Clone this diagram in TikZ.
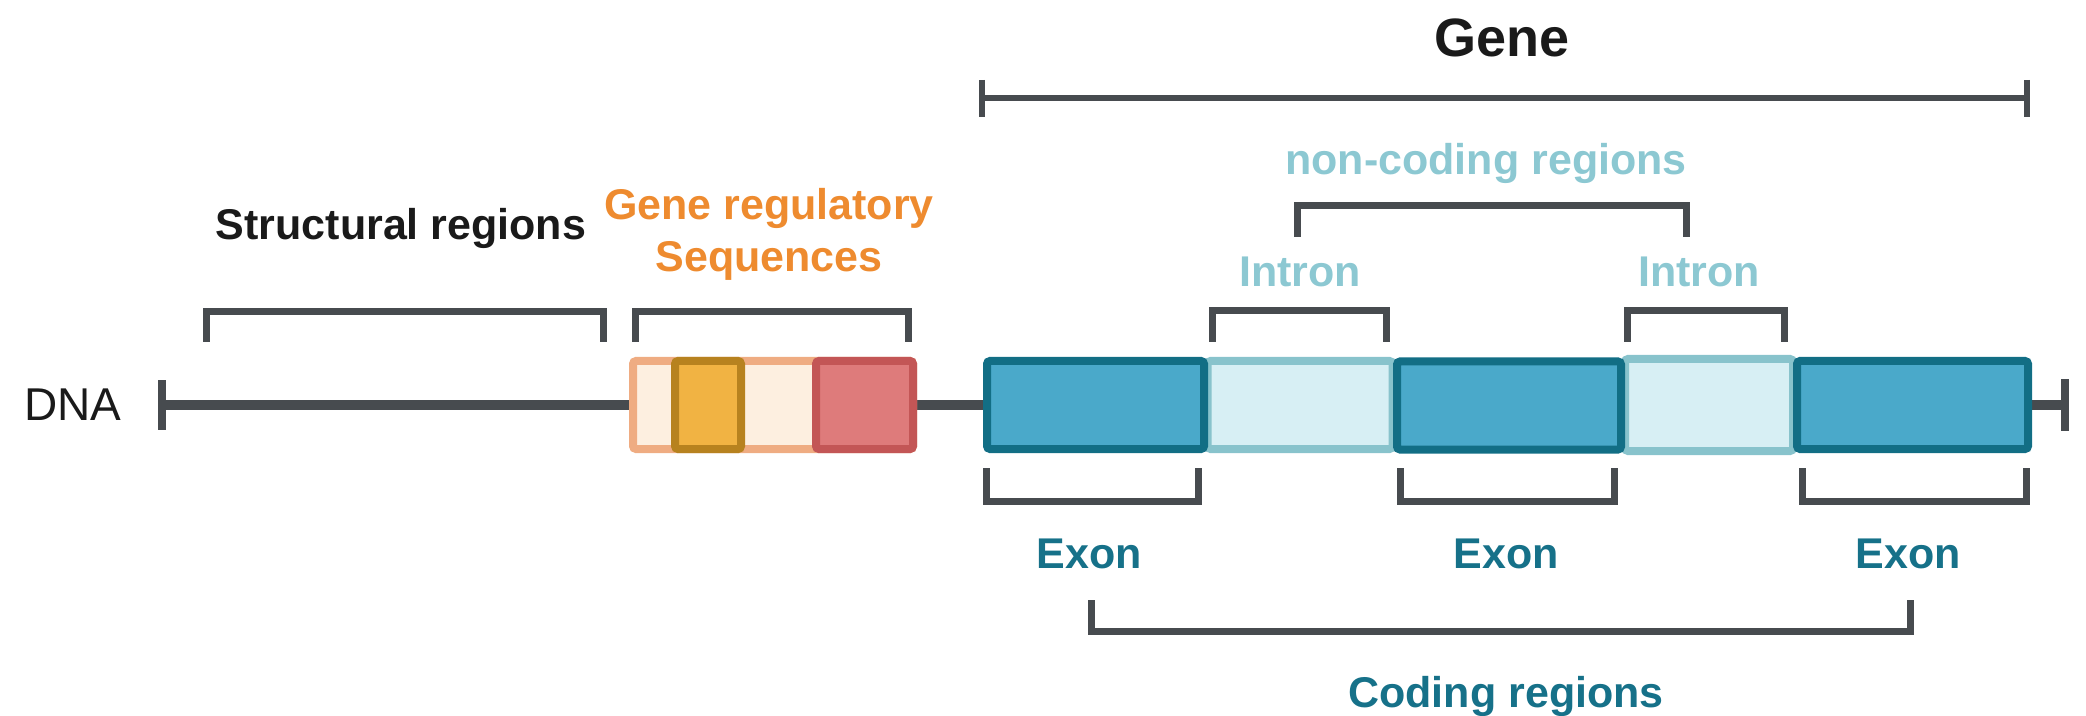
\documentclass[tikz,border=0pt]{standalone}
\usepackage{fontspec}
\setmainfont{Liberation Sans}
\definecolor{brgray}{HTML}{474B4F}
\definecolor{lblblack}{HTML}{1A1A1A}
\definecolor{orangelbl}{HTML}{EE8B2F}
\definecolor{lightteal}{HTML}{8CC8D2}
\definecolor{darkteal}{HTML}{167189}
\definecolor{exfill}{HTML}{4AA9CA}
\definecolor{exdraw}{HTML}{126E85}
\definecolor{infill}{HTML}{D7EFF4}
\definecolor{indraw}{HTML}{88C3CC}
\definecolor{regfill}{HTML}{FDEFE0}
\definecolor{regdraw}{HTML}{EFAC82}
\definecolor{yelfill}{HTML}{F1B343}
\definecolor{yeldraw}{HTML}{B7821F}
\definecolor{redfill}{HTML}{DE7B7B}
\definecolor{reddraw}{HTML}{C35656}
\begin{document}
\begin{tikzpicture}[x=0.5pt,y=-0.5pt,
  lbl/.style={font=\fontsize{21.5}{26}\selectfont\bfseries, anchor=base, inner sep=0pt},
  brk/.style={draw=brgray, line width=3.3pt, line join=miter, line cap=butt},
  dnaline/.style={draw=brgray, line width=5pt},
  tick/.style={draw=brgray, line width=4pt},
  seg/.style={line width=4pt, rounded corners=1.5pt, minimum height=44pt, inner sep=0pt, anchor=center},
  exonbox/.style={seg, fill=exfill, draw=exdraw},
  intronbox/.style={seg, fill=infill, draw=indraw},
  regbox/.style={seg, fill=regfill, draw=regdraw},
  yelbox/.style={seg, fill=yelfill, draw=yeldraw},
  redbox/.style={seg, fill=redfill, draw=reddraw}]
\useasboundingbox (0,0) rectangle (2086,716);

% DNA line
\coordinate (dnaL) at (162,405);
\coordinate (dnaR) at (2065,405);
\draw[dnaline] (dnaL) -- (dnaR);
\draw[tick] ([yshift=12.5pt]dnaL) -- ([yshift=-12.5pt]dnaL);
\draw[tick] ([yshift=13pt]dnaR) -- ([yshift=-13pt]dnaR);
\node[font=\fontsize{23}{26}\selectfont, text=lblblack, anchor=base, inner sep=0pt] (dna) at (73,420) {DNA};

% regulatory sequences
\node[regbox, minimum width=140pt] (reg) at (773,405) {};
\node[yelbox, minimum width=33pt] (yel) at (708,405) {};
\node[redbox, minimum width=48.5pt] (red) at (864.5,405) {};

% introns and exons
\node[intronbox, minimum width=92.5pt] (in1) at (1300,405) {};
\node[intronbox, minimum width=84pt, minimum height=46pt] (in2) at (1709,405) {};
\node[exonbox, minimum width=108.5pt] (ex1) at (1095.5,405) {};
\node[exonbox, minimum width=112pt] (ex2) at (1509,405.5) {};
\node[exonbox, minimum width=115.5pt] (ex3) at (1912.5,405) {};

% brackets above
\draw[brk] (206.5,342) -- (206.5,311.5) -- (603.5,311.5) -- (603.5,342);
\draw[brk] (635.5,342) -- (635.5,311.5) -- (908.5,311.5) -- (908.5,342);
\draw[brk] (1212.5,342) -- (1212.5,310.5) -- (1386.5,310.5) -- (1386.5,342);
\draw[brk] (1627.5,342) -- (1627.5,310.5) -- (1784.5,310.5) -- (1784.5,342);
\draw[brk] (1297.5,237) -- (1297.5,205.5) -- (1686.5,205.5) -- (1686.5,237);

% gene bar
\coordinate (gL) at (982,98);
\coordinate (gR) at (2027,98);
\draw[brk] (gL) -- (gR);
\draw[brk] (982,80) -- (982,117);
\draw[brk] (2027,80) -- (2027,117);

% brackets below
\draw[brk] (986.5,468) -- (986.5,501.5) -- (1198.5,501.5) -- (1198.5,468);
\draw[brk] (1400.5,468) -- (1400.5,501.5) -- (1614.5,501.5) -- (1614.5,468);
\draw[brk] (1802.5,468) -- (1802.5,501.5) -- (2026.5,501.5) -- (2026.5,468);
\draw[brk] (1091.5,600) -- (1091.5,631.5) -- (1910.5,631.5) -- (1910.5,600);

% labels
\node[lbl, text=lblblack, font=\fontsize{27}{30}\selectfont\bfseries] (gene) at (1502,57) {Gene};
\node[lbl, text=lblblack] (struct) at (401,240) {Structural regions};
\node[lbl, text=orangelbl] (gr1) at (769,220) {Gene regulatory};
\node[lbl, text=orangelbl] (gr2) at (769,272) {Sequences};
\node[lbl, text=lightteal] (nc) at (1486,175) {non-coding regions};
\node[lbl, text=lightteal] (int1) at (1300,287) {Intron};
\node[lbl, text=lightteal] (int2) at (1699,287) {Intron};
\node[lbl, text=darkteal] (exl1) at (1089,568) {Exon};
\node[lbl, text=darkteal] (exl2) at (1506,568) {Exon};
\node[lbl, text=darkteal] (exl3) at (1908,568) {Exon};
\node[lbl, text=darkteal] (coding) at (1506,707) {Coding regions};
\end{tikzpicture}
\end{document}
